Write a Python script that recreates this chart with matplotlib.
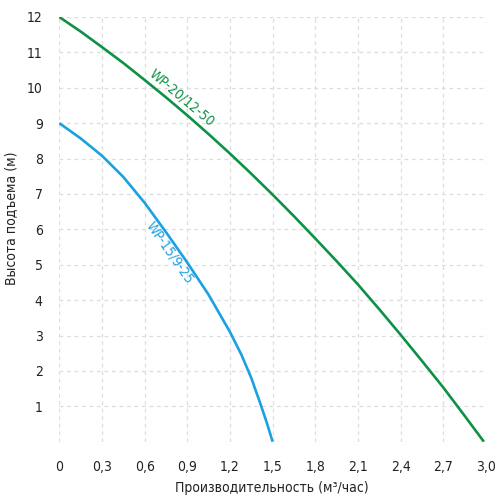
import matplotlib
matplotlib.use("Agg")
import matplotlib.pyplot as plt
from matplotlib.ticker import FixedLocator

# кривые насосов (производительность, м3/час -> высота подъема, м)
q_20 = [0, 0.15, 0.3, 0.45, 0.6, 0.75, 0.9, 1.05, 1.2, 1.35, 1.5, 1.65, 1.8,
        1.95, 2.1, 2.25, 2.4, 2.55, 2.7, 2.85, 2.985]
h_20 = [12, 11.59, 11.15, 10.7, 10.22, 9.73, 9.22, 8.69, 8.14, 7.57, 6.98, 6.37,
        5.74, 5.1, 4.44, 3.74, 3.02, 2.28, 1.53, 0.73, 0]

q_15 = [0, 0.15, 0.3, 0.45, 0.6, 0.75, 0.9, 1.05, 1.2, 1.28, 1.35, 1.42, 1.46, 1.5]
h_15 = [9, 8.57, 8.08, 7.48, 6.75, 5.92, 5.06, 4.15, 3.1, 2.46, 1.8, 1.0, 0.52, 0]

x_ticks = [0, 0.3, 0.6, 0.9, 1.2, 1.5, 1.8, 2.1, 2.4, 2.7, 3.0]
x_labels = ["0", "0,3", "0,6", "0,9", "1,2", "1,5", "1,8", "2,1", "2,4", "2,7", "3,0"]
y_ticks = [1, 2, 3, 4, 5, 6, 7, 8, 9, 10, 11, 12]

plt.rcParams['font.family'] = ['DejaVu Sans']
plt.rcParams['font.stretch'] = 'condensed'

fig = plt.figure(figsize=(5, 4.97), dpi=100)
ax = fig.add_axes([0.1186, 0.1113, 0.8534, 0.8545])

green = '#0d9245'
blue = '#1aa1e2'
txt = '#222222'

ax.plot(q_20, h_20, color=green, lw=1.9, solid_capstyle='butt')
ax.plot(q_15, h_15, color=blue, lw=1.9, solid_capstyle='butt')

ax.text(0.86, 9.72, "WP-20/12-50", color=green, fontsize=10, rotation=-40,
        ha='center', va='center', rotation_mode='anchor')
ax.text(0.78, 5.34, "WP-15/9-25", color=blue, fontsize=10, rotation=-55,
        ha='center', va='center', rotation_mode='anchor')

ax.set_xlim(0, 3.0)
ax.set_ylim(0, 12)
ax.xaxis.set_major_locator(FixedLocator(x_ticks))
ax.set_xticklabels(x_labels)
ax.set_yticks(y_ticks)
ax.tick_params(length=0, labelsize=10, colors=txt)
ax.tick_params(axis='x', pad=13)
ax.tick_params(axis='y', pad=12)

# сетка: все линии, включая нулевые
for x in x_ticks:
    ax.axvline(x, color='#dddddd', lw=0.9, ls=(0, (3, 3)), zorder=0)
for y in [0] + y_ticks:
    ax.axhline(y, color='#dddddd', lw=0.9, ls=(0, (3, 3)), zorder=0)

for s in ax.spines.values():
    s.set_visible(False)

# подписи осей ставим вручную, чтобы не обрезались
fig.text(272 / 500, 1 - 488 / 497, "Производительность (м³/час)", fontsize=10,
         color=txt, ha='center', va='center')
fig.text(11 / 500, 1 - 218 / 497, "Высота подъема (м)", fontsize=10,
         color=txt, ha='center', va='center', rotation=90)

fig.savefig("out.png", dpi=100)
